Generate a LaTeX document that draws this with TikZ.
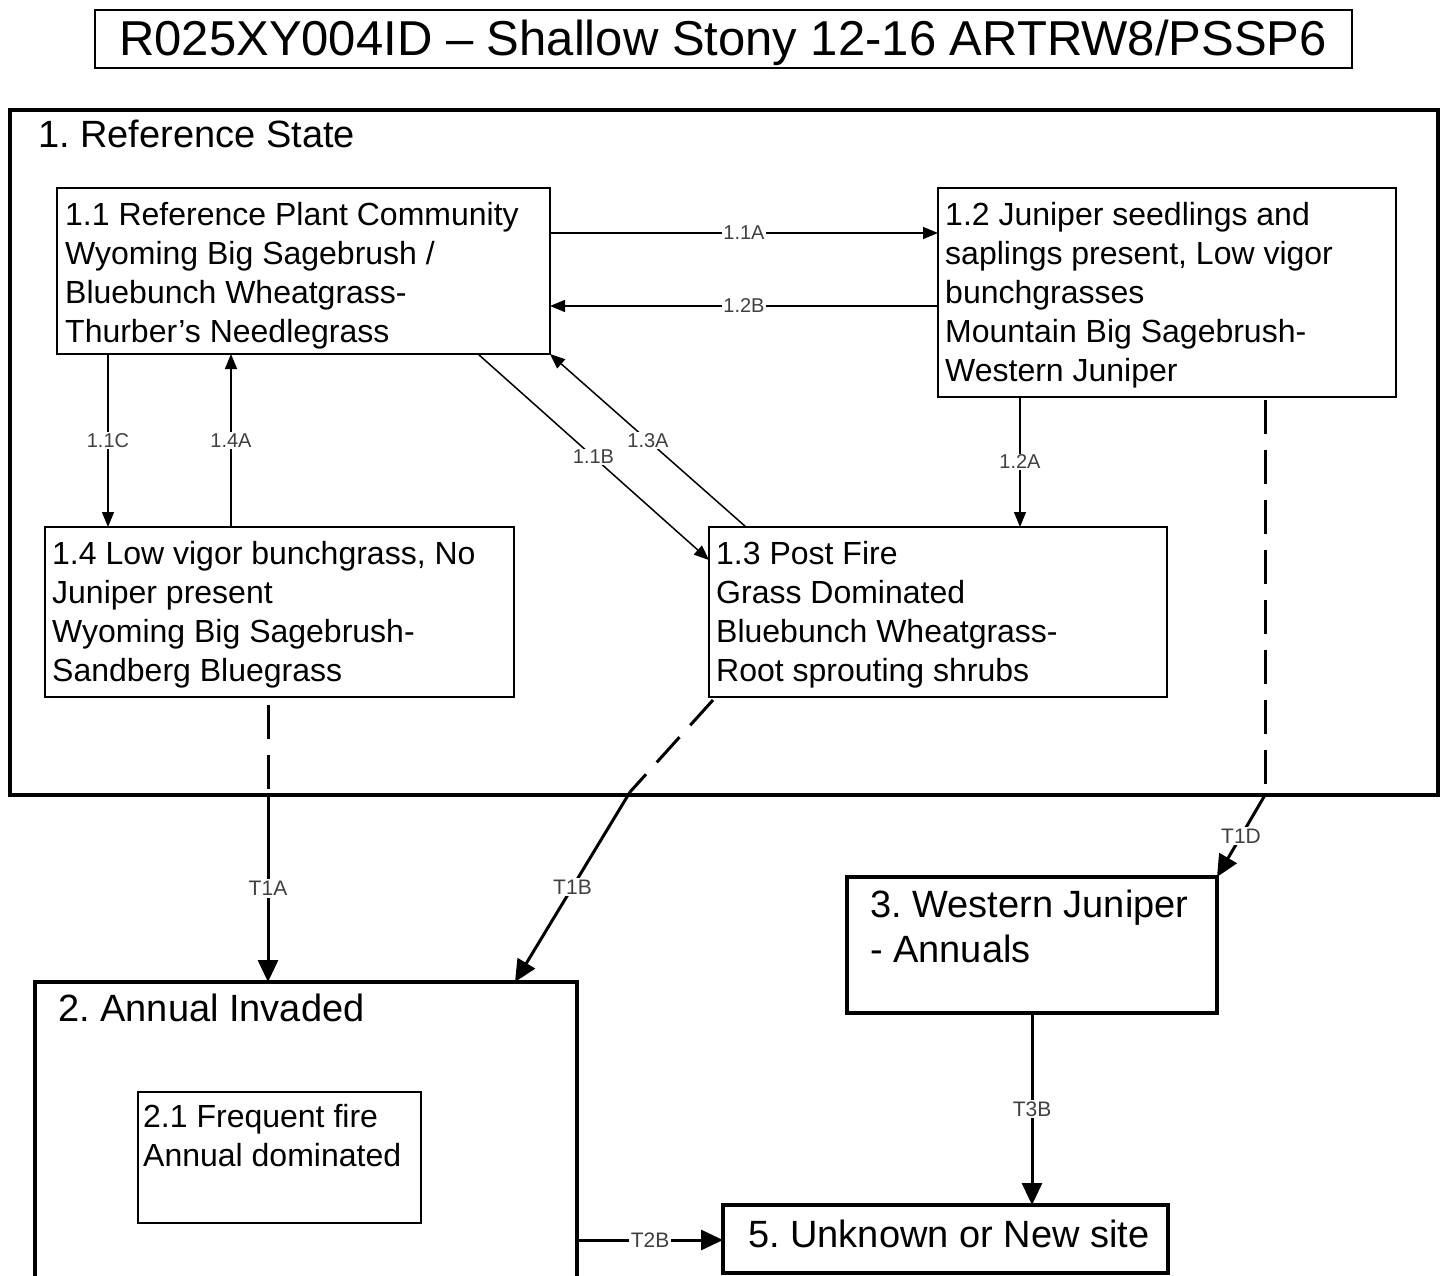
\documentclass[tikz,border=0pt]{standalone}
\usepackage{fontspec}
\setmainfont{Liberation Sans}
\usetikzlibrary{arrows.meta}
\frenchspacing
\begin{document}
\begin{tikzpicture}[x=1pt,y=-1pt,
  commbox/.style={draw, line width=1.6pt, inner sep=0pt, outer sep=0pt, anchor=north west},
  statebox/.style={draw, line width=4pt, inner sep=0pt, outer sep=0pt, anchor=north west},
  titlebox/.style={draw, line width=2.6pt, inner sep=0pt, outer sep=0pt, anchor=north west},
  ctext/.style={anchor=north west, align=left, inner sep=0pt, font=\fontsize{32}{39}\selectfont\frenchspacing},
  stext/.style={anchor=base west, inner sep=0pt, font=\fontsize{38}{45}\selectfont\frenchspacing},
  lab/.style={fill=white, inner sep=1.5pt, text=black!75, font=\fontsize{20}{20}\selectfont},
  tlab/.style={fill=white, inner sep=2pt, text=black!75, font=\fontsize{21}{21}\selectfont},
  thinarr/.style={line width=1.5pt, -{Triangle[length=15pt,width=12pt]}},
  tarr/.style={line width=3pt, -{Triangle[length=22pt,width=20pt]}},
  tdash/.style={line width=3pt, dash pattern=on 34pt off 16pt}
]
\useasboundingbox[fill=white] (0,0) rectangle (1446,1276);

% title
\node[titlebox, minimum width=1257pt, minimum height=58pt] (title) at (95,10) {};
\node[anchor=base, inner sep=0pt, font=\fontsize{49}{55}\selectfont\frenchspacing] (titletext) at (723,56) {R025XY004ID – Shallow Stony 12-16 ARTRW8/PSSP6};

% state 1
\node[statebox, minimum width=1428pt, minimum height=685pt] (s1) at (10,110) {};
\node[stext] (s1t) at (38,148) {1. Reference State};

% community boxes
\node[commbox, minimum width=493pt, minimum height=166pt] (n11) at (57,188) {};
\node[ctext] (t11) at (65,202) {1.1 Reference Plant Community\\Wyoming Big Sagebrush /\\Bluebunch Wheatgrass-\\Thurber’s Needlegrass};

\node[commbox, minimum width=458pt, minimum height=209pt] (n12) at (938,188) {};
\node[ctext] (t12) at (945,202) {1.2 Juniper seedlings and\\saplings present, Low vigor\\bunchgrasses\\Mountain Big Sagebrush-\\Western Juniper};

\node[commbox, minimum width=469pt, minimum height=170pt] (n14) at (45,527) {};
\node[ctext] (t14) at (52,541) {1.4 Low vigor bunchgrass, No\\Juniper present\\Wyoming Big Sagebrush-\\Sandberg Bluegrass};

\node[commbox, minimum width=458pt, minimum height=170pt] (n13) at (709,527) {};
\node[ctext] (t13) at (716,541) {1.3 Post Fire\\Grass Dominated\\Bluebunch Wheatgrass-\\Root sprouting shrubs};

% state 2
\node[statebox, minimum width=542pt, minimum height=330pt] (n2) at (35,982) {};
\node[stext] (n2t) at (58,1021) {2. Annual Invaded};
\node[commbox, minimum width=283pt, minimum height=131pt] (n21) at (138,1092) {};
\node[ctext] (t21) at (143,1104) {2.1 Frequent fire\\Annual dominated};

% state 3
\node[statebox, minimum width=370pt, minimum height=136pt] (n3) at (847,877) {};
\node[anchor=north west, align=left, inner sep=0pt, font=\fontsize{38}{45}\selectfont\frenchspacing] (n3t) at (870,890) {3. Western Juniper\\- Annuals};

% state 5
\node[statebox, minimum width=445pt, minimum height=68pt] (n5) at (723,1205) {};
\node[stext] (n5t) at (748,1247) {5. Unknown or New site};

% community pathways
\draw[thinarr] (n11.east |- 0,233) -- node[lab]{1.1A} (n12.west |- 0,233);
\draw[thinarr] (n12.west |- 0,306) -- node[lab]{1.2B} (n11.east |- 0,306);
\draw[thinarr] (n11.south -| 108,0) -- node[lab]{1.1C} (n14.north -| 108,0);
\draw[thinarr] (n14.north -| 231,0) -- node[lab]{1.4A} (n11.south -| 231,0);
\draw[thinarr] (n11.south -| 478,0) -- node[lab]{1.1B} (n13.west |- 0,560);
\draw[thinarr] (n13.north -| 746,0) -- node[lab]{1.3A} (n11.south east);
\draw[thinarr] (n12.south -| 1020,0) -- node[lab]{1.2A} (n13.north -| 1020,0);

% transitions
\coordinate (t1as) at (268,705);
\draw[tdash] (t1as) -- (s1.south -| t1as);
\draw[tarr] (s1.south -| t1as) -- node[tlab]{T1A} (n2.north -| t1as);

\coordinate (t1bs) at (713,700);
\coordinate (t1bk) at (630,792);
\draw[tdash] (t1bs) -- (t1bk);
\draw[tarr] (t1bk) -- node[tlab]{T1B} (n2.north -| 515,0);

\coordinate (t1ds) at (1265,400);
\draw[tdash] (t1ds) -- (s1.south -| t1ds);
\draw[tarr] (s1.south -| t1ds) -- node[tlab]{T1D} (n3.north east);

\draw[tarr] (n3.south -| 1032,0) -- node[tlab]{T3B} (n5.north -| 1032,0);
\draw[tarr] (n2.east |- 0,1240) -- node[tlab]{T2B} (n5.west |- 0,1240);
\end{tikzpicture}
\end{document}
